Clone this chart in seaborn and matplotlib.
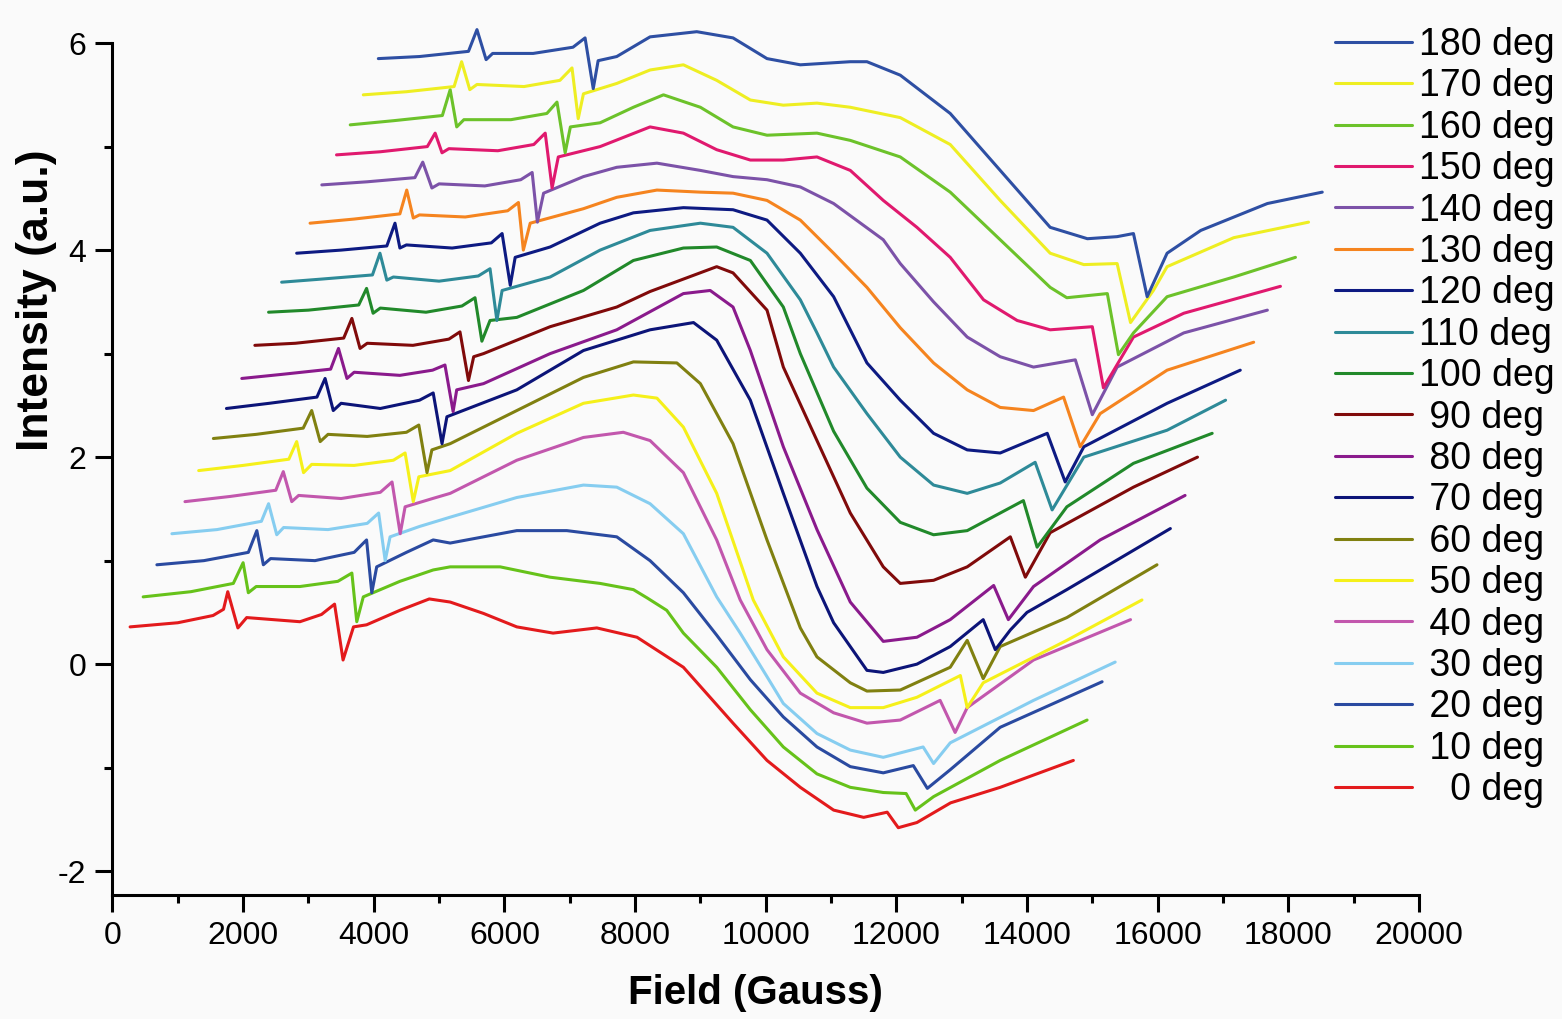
import matplotlib
matplotlib.use("Agg")
import matplotlib.pyplot as plt
import seaborn as sns
import pandas as pd
from matplotlib.ticker import MultipleLocator

# ---------------- data ----------------
angles = [0, 10, 20, 30, 40, 50, 60, 70, 80, 90, 100, 110, 120, 130, 140, 150, 160, 170, 180]
colors = ['#e31a1c', '#66c21a', '#2a4aa0', '#86cdf0', '#c257ad', '#f5f01a', '#808010', '#0c1478',
          '#8a1a8c', '#800a0a', '#21892a', '#2e8a98', '#0d1a82', '#f5841f', '#7c52a8', '#e0196e',
          '#6cc22a', '#eeee22', '#2e4fa3']

field_000 = [270, 1000, 1540, 1700, 1765, 1920, 2055, 2870, 3200, 3400, 3530, 3690, 3890, 4400, 4850, 5170, 5680, 6190, 6745, 7415, 8030, 8740, 9500, 10020, 10530, 11040, 11500, 11860, 12030, 12315, 12830, 13590, 14710]
inten_000 = [0.36, 0.40, 0.47, 0.53, 0.70, 0.35, 0.45, 0.41, 0.48, 0.58, 0.04, 0.36, 0.38, 0.52, 0.63, 0.60, 0.49, 0.36, 0.30, 0.35, 0.26, -0.03, -0.57, -0.93, -1.19, -1.41, -1.48, -1.43, -1.58, -1.53, -1.34, -1.19, -0.93]

field_010 = [470, 1200, 1850, 2000, 2080, 2200, 2870, 3450, 3665, 3740, 3840, 4400, 4910, 5170, 5935, 6700, 7465, 7975, 8185, 8485, 8740, 9250, 9765, 10270, 10785, 11295, 11800, 12150, 12290, 12570, 13590, 14920]
inten_010 = [0.65, 0.70, 0.78, 0.98, 0.69, 0.75, 0.75, 0.80, 0.88, 0.41, 0.65, 0.80, 0.91, 0.94, 0.94, 0.84, 0.78, 0.72, 0.64, 0.52, 0.30, -0.03, -0.44, -0.80, -1.06, -1.19, -1.24, -1.25, -1.41, -1.28, -0.93, -0.54]

field_020 = [680, 1400, 2080, 2210, 2310, 2420, 3100, 3700, 3890, 3970, 4045, 4500, 4910, 5170, 6190, 6955, 7720, 8230, 8740, 9250, 9765, 10270, 10785, 11295, 11800, 12260, 12475, 12825, 13590, 15150]
inten_020 = [0.96, 1.00, 1.08, 1.29, 0.96, 1.02, 1.00, 1.08, 1.20, 0.69, 0.94, 1.08, 1.20, 1.17, 1.29, 1.29, 1.23, 1.00, 0.69, 0.28, -0.15, -0.51, -0.80, -0.99, -1.05, -0.98, -1.20, -1.02, -0.61, -0.17]

field_030 = [910, 1600, 2280, 2390, 2515, 2620, 3300, 3900, 4075, 4175, 4250, 4700, 5170, 6190, 7210, 7720, 8230, 8740, 9250, 9610, 10000, 10270, 10785, 11295, 11800, 12410, 12570, 12825, 14100, 15350]
inten_030 = [1.26, 1.30, 1.38, 1.55, 1.25, 1.32, 1.30, 1.36, 1.46, 1.00, 1.23, 1.33, 1.42, 1.61, 1.73, 1.71, 1.55, 1.26, 0.65, 0.30, -0.10, -0.38, -0.67, -0.83, -0.90, -0.80, -0.96, -0.76, -0.35, 0.02]

field_040 = [1110, 1800, 2500, 2615, 2745, 2850, 3500, 4100, 4280, 4405, 4480, 4900, 5170, 6190, 7210, 7820, 8230, 8740, 9250, 9610, 10020, 10530, 11040, 11550, 12060, 12670, 12900, 13085, 14100, 15585]
inten_040 = [1.57, 1.62, 1.68, 1.86, 1.57, 1.63, 1.60, 1.66, 1.76, 1.26, 1.52, 1.60, 1.65, 1.97, 2.19, 2.24, 2.16, 1.85, 1.20, 0.62, 0.14, -0.28, -0.47, -0.57, -0.54, -0.35, -0.66, -0.42, 0.04, 0.43]

field_050 = [1320, 2000, 2700, 2820, 2925, 3050, 3700, 4300, 4480, 4605, 4690, 5170, 6190, 7210, 7975, 8335, 8740, 9250, 9810, 10270, 10785, 11295, 11800, 12315, 12980, 13085, 13330, 14610, 15760]
inten_050 = [1.87, 1.92, 1.98, 2.15, 1.85, 1.93, 1.92, 1.97, 2.04, 1.57, 1.81, 1.87, 2.23, 2.52, 2.60, 2.57, 2.29, 1.65, 0.62, 0.07, -0.28, -0.42, -0.42, -0.32, -0.11, -0.42, -0.18, 0.23, 0.62]

field_060 = [1545, 2200, 2920, 3050, 3180, 3300, 3900, 4500, 4690, 4815, 4890, 5170, 6190, 7210, 7975, 8640, 9000, 9500, 10020, 10530, 10785, 11295, 11550, 12060, 12825, 13085, 13330, 13590, 14610, 15990]
inten_060 = [2.18, 2.22, 2.28, 2.45, 2.15, 2.22, 2.20, 2.24, 2.31, 1.85, 2.07, 2.13, 2.45, 2.77, 2.92, 2.91, 2.71, 2.13, 1.20, 0.35, 0.07, -0.18, -0.26, -0.25, -0.03, 0.23, -0.14, 0.17, 0.45, 0.96]

field_070 = [1745, 2400, 3130, 3255, 3380, 3500, 4100, 4700, 4910, 5045, 5120, 6190, 7210, 8230, 8895, 9250, 9765, 10270, 10785, 11040, 11550, 11800, 12315, 12825, 13330, 13515, 13745, 14000, 14610, 16195]
inten_070 = [2.47, 2.52, 2.58, 2.76, 2.45, 2.52, 2.47, 2.55, 2.62, 2.13, 2.39, 2.65, 3.03, 3.23, 3.30, 3.13, 2.55, 1.65, 0.75, 0.40, -0.06, -0.08, 0.00, 0.17, 0.43, 0.14, 0.33, 0.50, 0.72, 1.31]

field_080 = [1980, 2600, 3340, 3460, 3590, 3700, 4400, 4900, 5090, 5215, 5270, 5680, 6700, 7720, 8740, 9150, 9500, 9765, 10270, 10785, 11295, 11800, 12315, 12825, 13490, 13715, 14100, 15120, 16420]
inten_080 = [2.76, 2.80, 2.85, 3.05, 2.76, 2.82, 2.79, 2.84, 2.89, 2.44, 2.65, 2.71, 3.00, 3.23, 3.58, 3.61, 3.45, 3.03, 2.10, 1.30, 0.60, 0.22, 0.26, 0.43, 0.76, 0.43, 0.75, 1.20, 1.63]

field_090 = [2180, 2800, 3540, 3665, 3790, 3900, 4600, 5150, 5320, 5450, 5530, 5680, 6700, 7720, 8230, 9250, 9500, 10020, 10270, 10785, 11295, 11800, 12060, 12570, 13085, 13745, 13975, 14355, 15630, 16610]
inten_090 = [3.08, 3.10, 3.15, 3.34, 3.05, 3.10, 3.08, 3.14, 3.21, 2.74, 2.97, 3.00, 3.26, 3.45, 3.60, 3.84, 3.78, 3.42, 2.87, 2.16, 1.46, 0.94, 0.78, 0.81, 0.94, 1.23, 0.84, 1.27, 1.71, 2.00]

field_100 = [2390, 3000, 3770, 3890, 3990, 4100, 4800, 5350, 5550, 5655, 5780, 6190, 7210, 7975, 8740, 9250, 9765, 10270, 10530, 11040, 11550, 12060, 12570, 13085, 13590, 13945, 14155, 14610, 15630, 16835]
inten_100 = [3.40, 3.42, 3.47, 3.63, 3.39, 3.44, 3.40, 3.46, 3.54, 3.12, 3.32, 3.35, 3.61, 3.90, 4.02, 4.03, 3.90, 3.45, 3.00, 2.25, 1.70, 1.37, 1.25, 1.29, 1.46, 1.58, 1.13, 1.52, 1.94, 2.23]

field_110 = [2590, 3200, 3980, 4095, 4200, 4300, 5000, 5600, 5780, 5885, 5965, 6700, 7465, 8230, 9000, 9500, 10020, 10530, 10785, 11040, 11550, 12060, 12570, 13085, 13590, 14125, 14385, 14870, 16145, 17040]
inten_110 = [3.69, 3.72, 3.76, 3.97, 3.71, 3.74, 3.70, 3.75, 3.82, 3.32, 3.61, 3.74, 4.00, 4.19, 4.26, 4.22, 3.97, 3.52, 3.20, 2.87, 2.42, 2.00, 1.73, 1.65, 1.75, 1.95, 1.49, 2.00, 2.26, 2.55]

field_120 = [2820, 3500, 4200, 4325, 4400, 4500, 5200, 5800, 5965, 6090, 6165, 6700, 7465, 7975, 8740, 9500, 10020, 10530, 11040, 11550, 12060, 12570, 13085, 13590, 14310, 14585, 14870, 16145, 17265]
inten_120 = [3.97, 4.00, 4.04, 4.26, 4.02, 4.05, 4.02, 4.07, 4.16, 3.66, 3.93, 4.03, 4.26, 4.36, 4.41, 4.39, 4.29, 3.97, 3.55, 2.91, 2.55, 2.23, 2.07, 2.04, 2.23, 1.76, 2.10, 2.52, 2.84]

field_130 = [3025, 3700, 4400, 4505, 4605, 4700, 5400, 6050, 6215, 6290, 6395, 7210, 7720, 8335, 9000, 9500, 10020, 10530, 11040, 11550, 12060, 12570, 13085, 13590, 14100, 14560, 14815, 15120, 16145, 17470]
inten_130 = [4.26, 4.30, 4.35, 4.58, 4.31, 4.34, 4.32, 4.38, 4.46, 4.00, 4.26, 4.40, 4.51, 4.58, 4.56, 4.55, 4.48, 4.29, 3.97, 3.64, 3.25, 2.91, 2.65, 2.48, 2.45, 2.58, 2.10, 2.42, 2.84, 3.11]

field_140 = [3205, 3900, 4630, 4750, 4890, 5000, 5700, 6250, 6425, 6505, 6600, 7210, 7720, 8335, 9000, 9500, 10020, 10530, 11040, 11800, 12060, 12570, 13085, 13590, 14100, 14740, 15000, 15380, 16400, 17680]
inten_140 = [4.63, 4.66, 4.70, 4.85, 4.60, 4.64, 4.62, 4.68, 4.75, 4.27, 4.55, 4.71, 4.80, 4.84, 4.77, 4.71, 4.68, 4.61, 4.45, 4.10, 3.87, 3.50, 3.16, 2.97, 2.87, 2.94, 2.41, 2.87, 3.20, 3.42]

field_150 = [3430, 4100, 4820, 4940, 5045, 5150, 5900, 6450, 6625, 6730, 6825, 7465, 8230, 8740, 9250, 9765, 10270, 10785, 11295, 11800, 12315, 12825, 13335, 13850, 14355, 15000, 15170, 15630, 16400, 17880]
inten_150 = [4.92, 4.95, 5.00, 5.13, 4.94, 4.98, 4.96, 5.02, 5.13, 4.60, 4.90, 5.00, 5.19, 5.13, 4.97, 4.87, 4.87, 4.90, 4.77, 4.48, 4.22, 3.93, 3.52, 3.32, 3.23, 3.26, 2.67, 3.16, 3.39, 3.65]

field_160 = [3640, 4300, 5050, 5170, 5270, 5380, 6100, 6650, 6805, 6930, 7010, 7465, 7975, 8435, 9000, 9500, 10020, 10785, 11295, 12060, 12825, 13590, 14355, 14610, 15230, 15400, 15630, 16145, 17165, 18110]
inten_160 = [5.21, 5.25, 5.30, 5.55, 5.19, 5.26, 5.26, 5.32, 5.43, 4.94, 5.19, 5.23, 5.38, 5.50, 5.38, 5.19, 5.11, 5.13, 5.06, 4.90, 4.56, 4.10, 3.64, 3.54, 3.58, 2.99, 3.20, 3.55, 3.74, 3.93]

field_170 = [3840, 4500, 5230, 5345, 5470, 5580, 6300, 6850, 7035, 7130, 7210, 7720, 8230, 8740, 9250, 9765, 10270, 10785, 11295, 12060, 12825, 13590, 14355, 14870, 15380, 15585, 15935, 16145, 17165, 18310]
inten_170 = [5.50, 5.53, 5.58, 5.82, 5.55, 5.60, 5.58, 5.64, 5.76, 5.27, 5.51, 5.61, 5.74, 5.79, 5.64, 5.45, 5.40, 5.42, 5.38, 5.28, 5.02, 4.48, 3.97, 3.86, 3.87, 3.30, 3.61, 3.84, 4.12, 4.27]

field_180 = [4070, 4700, 5450, 5580, 5720, 5820, 6440, 7050, 7235, 7360, 7435, 7720, 8230, 8945, 9500, 10020, 10530, 11295, 11550, 12060, 12825, 13590, 14355, 14925, 15380, 15630, 15840, 16145, 16660, 17680, 18520]
inten_180 = [5.85, 5.87, 5.92, 6.13, 5.84, 5.90, 5.90, 5.96, 6.05, 5.56, 5.83, 5.87, 6.06, 6.11, 6.05, 5.85, 5.79, 5.82, 5.82, 5.69, 5.32, 4.77, 4.22, 4.11, 4.13, 4.16, 3.55, 3.97, 4.19, 4.45, 4.56]

fields = [field_000, field_010, field_020, field_030, field_040, field_050, field_060, field_070, field_080,
          field_090, field_100, field_110, field_120, field_130, field_140, field_150, field_160, field_170, field_180]
intens = [inten_000, inten_010, inten_020, inten_030, inten_040, inten_050, inten_060, inten_070, inten_080,
          inten_090, inten_100, inten_110, inten_120, inten_130, inten_140, inten_150, inten_160, inten_170, inten_180]

labels = [("   0 deg" if a == 0 else (f" {a} deg" if a < 100 else f"{a} deg")) for a in angles]

rows = []
for lab, fx, iy in zip(labels, fields, intens):
    for i, (xv, yv) in enumerate(zip(fx, iy)):
        rows.append({"Field": xv, "Intensity": yv, "Angle": lab, "order": i})
df = pd.DataFrame(rows)

# ---------------- figure ----------------
sns.set_theme(style="ticks")
plt.rcParams['font.family'] = ['Liberation Sans', 'DejaVu Sans']
plt.rcParams['axes.unicode_minus'] = False
plt.rcParams['text.color'] = 'black'
plt.rcParams['axes.labelcolor'] = 'black'
BG = '#fafafa'
fig = plt.figure(figsize=(15.62, 10.19), dpi=100, facecolor=BG)
ax = fig.add_axes([0.0720, 0.1217, 0.8364, 0.8665], facecolor=BG)

palette = dict(zip(labels, colors))
sns.lineplot(data=df, x="Field", y="Intensity", hue="Angle", hue_order=labels, palette=palette,
             units="Angle", estimator=None, sort=False, linewidth=2.2, ax=ax, legend=True)

ax.set_xlim(0, 20000)
ax.set_ylim(-2.23, 6.3)
for s in ['top', 'right']:
    ax.spines[s].set_visible(False)
for s in ['left', 'bottom']:
    ax.spines[s].set_linewidth(2.2)
    ax.spines[s].set_color('black')
ax.spines['left'].set_bounds(-2.23, 6)

ax.xaxis.set_major_locator(MultipleLocator(2000))
ax.xaxis.set_minor_locator(MultipleLocator(1000))
ax.set_yticks([-2, 0, 2, 4, 6])
ax.set_yticks([-1, 1, 3, 5], minor=True)
ax.tick_params(which='major', direction='out', length=12, width=2.2, labelsize=23, pad=7, colors='black')
ax.tick_params(which='minor', direction='out', length=6, width=2.2, colors='black')

ax.set_xlabel("Field (Gauss)", fontsize=29, fontweight='bold', color='black')
ax.set_ylabel("Intensity (a.u.)", fontsize=32, fontweight='bold', color='black')
ax.xaxis.set_label_coords(0.4925, -0.111)
ax.xaxis.label.set_va('center')
ax.yaxis.set_label_coords(-0.0578, 0.674)
ax.yaxis.label.set_va('center')
ax.grid(False)

handles, labs = ax.get_legend_handles_labels()
ax.get_legend().remove()
order = list(range(len(labs)))[::-1]
leg = fig.legend([handles[i] for i in order], [labs[i] for i in order],
                 loc='upper left', bbox_to_anchor=(1335 / 1562, 1 - 27 / 1019),
                 frameon=False, borderaxespad=0, borderpad=0, handlelength=2.05,
                 handletextpad=0.2, labelspacing=0.144, fontsize=27)
for ln in leg.get_lines():
    ln.set_linewidth(2.2)
for t in leg.get_texts():
    t.set_color('black')

fig.savefig("out.png", dpi=100, facecolor=BG)
